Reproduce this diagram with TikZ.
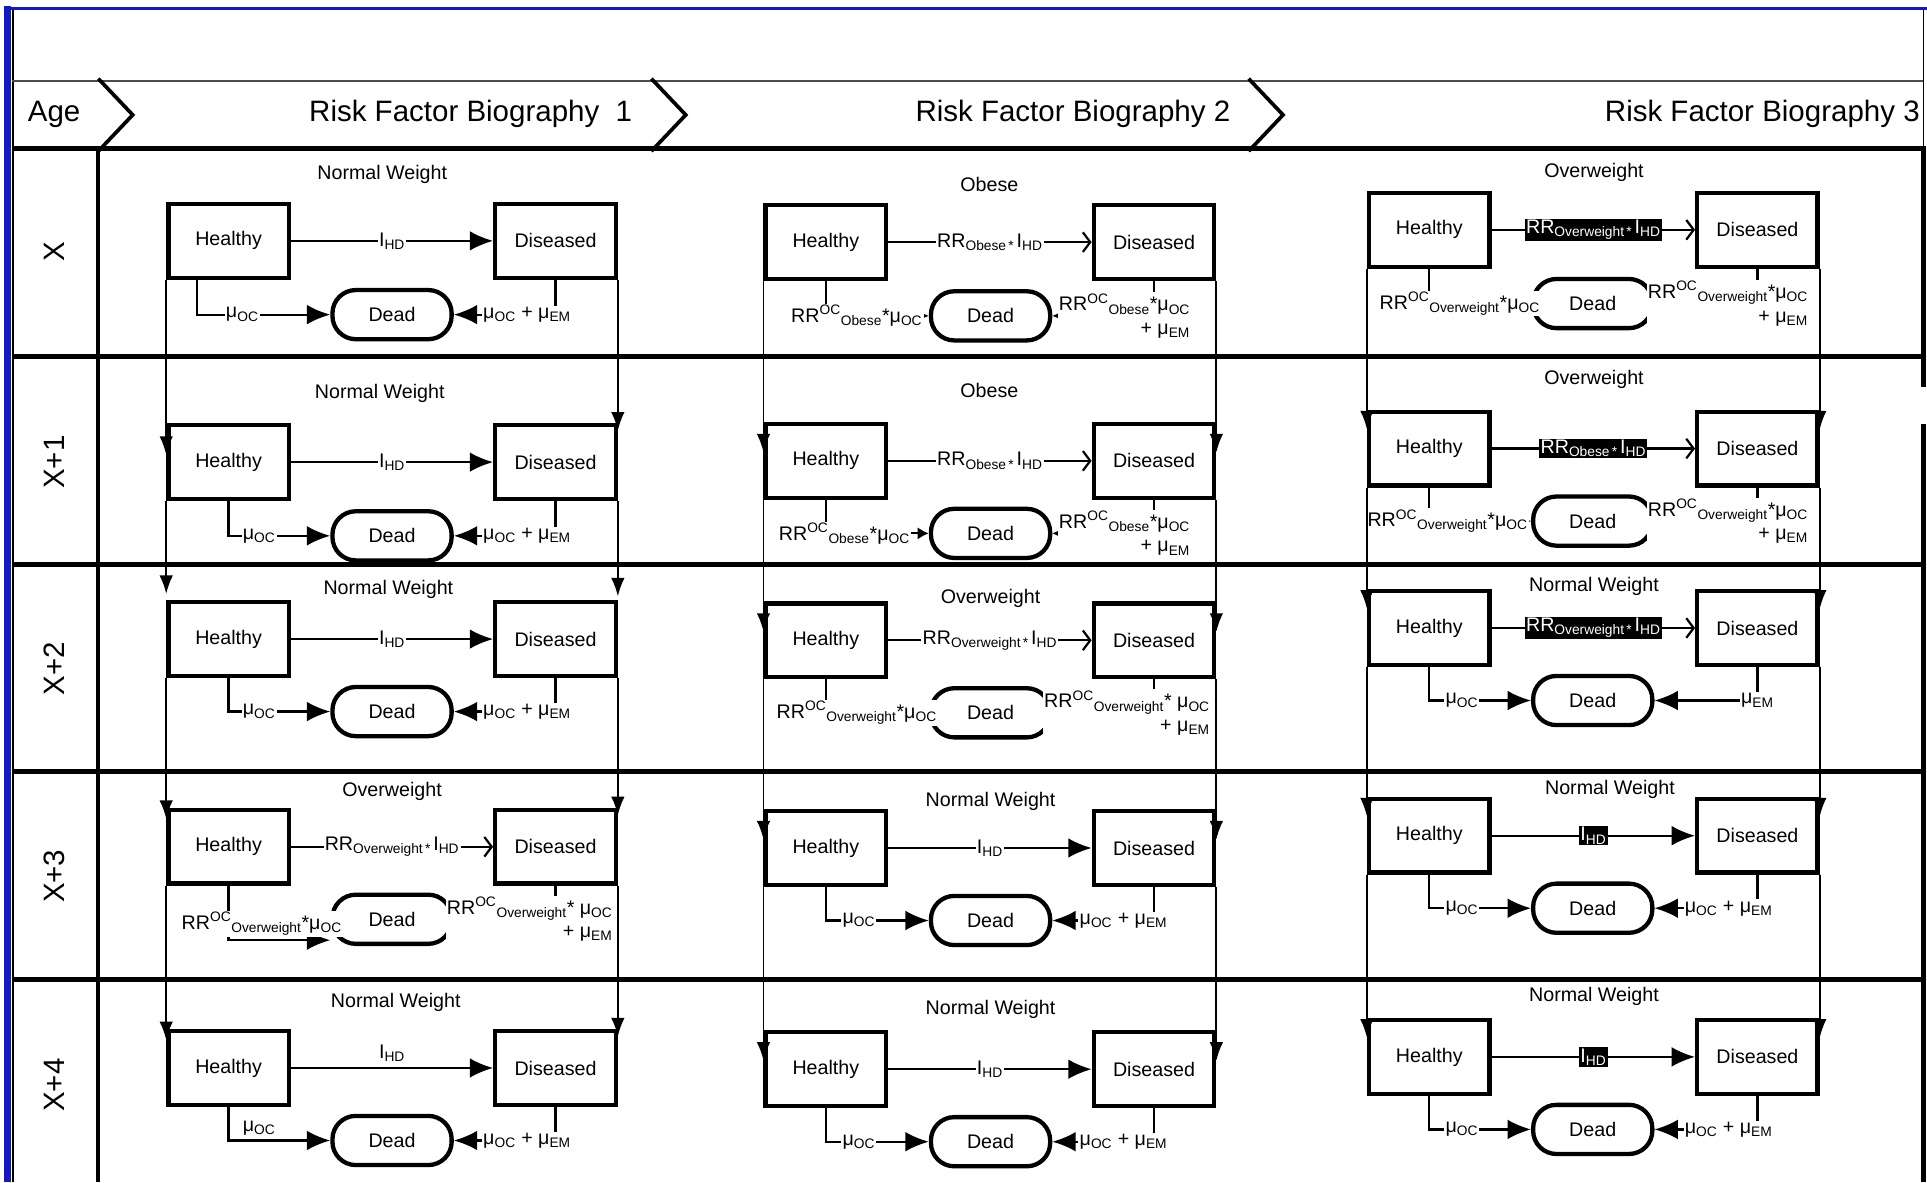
\documentclass[tikz,border=0pt]{standalone}
\usepackage{fontspec}
\setmainfont{Liberation Sans}
\usetikzlibrary{arrows.meta}
\definecolor{frameblue}{RGB}{18,24,196}
\newcommand{\muoc}{μ\textsubscript{OC}}
\newcommand{\muem}{μ\textsubscript{EM}}
\newcommand{\ihd}{I\textsubscript{HD}}
\newcommand{\rrihd}[1]{RR\textsubscript{#1\,*\,}I\textsubscript{HD}}
\newcommand{\rroc}[1]{RR\textsuperscript{OC}\textsubscript{#1}}

\begin{document}
\begin{tikzpicture}[x=1pt,y=-1pt,
    font=\fontsize{16}{19}\selectfont,
    node distance=267pt,
    state/.style={draw,line width=3.5pt,minimum width=98pt,minimum height=60pt},
    dead/.style={draw,line width=3.5pt,rounded corners=19pt,minimum width=97pt,minimum height=40pt},
    big/.style={font=\fontsize{24}{28}\selectfont},
    rate/.style={line width=1.8pt,-{Latex[length=19pt,width=16pt]}},
    rrrate/.style={line width=1.8pt,-{Straight Barb[length=6pt,width=16pt]}},
    small/.style={line width=1.8pt,-{Latex[length=9pt,width=10pt]}},
    year/.style={line width=1.5pt,-{Latex[length=15pt,width=11pt]}},
    lab/.style={fill=white,inner sep=1pt},
    hilite/.style={fill=black,text=white,inner sep=1pt},
    twoline/.style={fill=white,inner sep=1pt,align=right}]
  \useasboundingbox (0,0) rectangle (1568,962);

  % frame and header
  \fill[frameblue] (3,5) rectangle (9,962);
  \draw[frameblue,line width=3pt] (3,7) -- (1568,7);
  \draw[line width=2pt] (10.5,8) -- (10.5,962);
  \draw[line width=1pt] (1565,8) -- (1565,121);
  \draw[line width=4pt] (1565,121) -- (1565,315) (1565,345) -- (1565,962);
  \draw[line width=1.5pt,black!70] (10,66) -- (1565,66);
  \draw[line width=4pt] (10,121) -- (1567,121);
  \foreach \x in {80,530,1016}
    \draw[line width=3pt] (\x,64) -- (\x+28,93.5) -- (\x,123);
  \node[big] (age) at (44,93) {Age};
  \node[big] (bio1) at (383,93) {Risk Factor Biography\ \ 1};
  \node[big] (bio2) at (873,93) {Risk Factor Biography 2};
  \node[big] (bio3) at (1434,93) {Risk Factor Biography 3};

  % age rows
  \foreach \y in {290,459,628,797}
    \draw[line width=4pt] (10,\y) -- (1567,\y);
  \draw[line width=3.5pt] (80,121) -- (80,962);
  \foreach \t/\y in {X/205,X+1/376,X+2/544,X+3/713,X+4/883}
    \node[big,rotate=90] at (44,\y) {\t};

  % biography 1
  \node[state] (h11) at (186,196) {Healthy};
  \node[state,right of=h11,node distance=266pt] (d11) {Diseased};
  \node[dead,right of=h11,node distance=133pt,yshift=-60pt] (x11) {Dead};
  \node (w11) at (311,142) {Normal Weight};
  \draw[rate] (h11) -- node[lab] {\ihd} (d11);
  \draw[rate] ([xshift=25pt]h11.south west) |- node[lab,pos=.67] {\muoc} (x11);
  \draw[rate] (d11) |- node[lab,pos=.64] {\muoc{} + \muem} (x11);

  \node[state] (h12) at (186,376) {Healthy};
  \node[state,right of=h12,node distance=266pt] (d12) {Diseased};
  \node[dead,right of=h12,node distance=133pt,yshift=-60pt] (x12) {Dead};
  \node (w12) at (309,320) {Normal Weight};
  \draw[rate] (h12) -- node[lab] {\ihd} (d12);
  \draw[rate] (h12) |- node[lab,pos=.65] {\muoc} (x12);
  \draw[rate] (d12) |- node[lab,pos=.64] {\muoc{} + \muem} (x12);

  \node[state] (h13) at (186,520) {Healthy};
  \node[state,right of=h13,node distance=266pt] (d13) {Diseased};
  \node[dead,right of=h13,node distance=133pt,yshift=-59pt] (x13) {Dead};
  \node (w13) at (316,480) {Normal Weight};
  \draw[rate] (h13) -- node[lab] {\ihd} (d13);
  \draw[rate] (h13) |- node[lab,pos=.65] {\muoc} (x13);
  \draw[rate] (d13) |- node[lab,pos=.64] {\muoc{} + \muem} (x13);

  \node[state] (h14) at (186,689) {Healthy};
  \node[state,right of=h14,node distance=266pt] (d14) {Diseased};
  \node[dead,right of=h14,node distance=133pt,yshift=-59pt] (x14) {Dead};
  \node (w14) at (319,644) {Overweight};
  \draw[rrrate] (h14) -- node[lab] {\rrihd{Overweight}} (d14);
  \draw[rate] (h14) |- node[lab,pos=.35,xshift=27pt] {\rroc{Overweight}*\muoc} ([yshift=-17pt]x14.west);
  \draw[small] (d14) |- node[twoline,pos=.5,xshift=-21pt] {\rroc{Overweight}* \muoc\\+ \muem} (x14);

  \node[state] (h15) at (186,869) {Healthy};
  \node[state,right of=h15,node distance=266pt] (d15) {Diseased};
  \node[dead,right of=h15,node distance=133pt,yshift=-59pt] (x15) {Dead};
  \node (w15) at (322,816) {Normal Weight};
  \draw[rate] (h15) -- node[above=1pt] {\ihd} (d15);
  \draw[rate] (h15) |- node[above,pos=.65] {\muoc} (x15);
  \draw[rate] (d15) |- node[lab,pos=.64] {\muoc{} + \muem} (x15);

  % biography 2
  \node[state] (h21) at (672,197) {Healthy};
  \node[state,right of=h21] (d21) {Diseased};
  \node[dead,right of=h21,node distance=134pt,yshift=-60pt] (x21) {Dead};
  \node (w21) at (805,150) {Obese};
  \draw[rrrate] (h21) -- node[lab] {\rrihd{Obese}} (d21);
  \draw[small] (h21) |- node[lab,pos=.65] {\rroc{Obese}*\muoc} (x21);
  \draw[small] (d21) |- node[twoline,pos=.5,xshift=-24pt] {\rroc{Obese}*\muoc\\+ \muem} (x21);

  \node[state] (h22) at (672,375) {Healthy};
  \node[state,right of=h22] (d22) {Diseased};
  \node[dead,right of=h22,node distance=134pt,yshift=-59pt] (x22) {Dead};
  \node (w22) at (805,318) {Obese};
  \draw[rrrate] (h22) -- node[lab] {\rrihd{Obese}} (d22);
  \draw[small] (h22) |- node[lab,pos=.59] {\rroc{Obese}*\muoc} (x22);
  \draw[small] (d22) |- node[twoline,pos=.5,xshift=-24pt] {\rroc{Obese}*\muoc\\+ \muem} (x22);

  \node[state] (h23) at (672,521) {Healthy};
  \node[state,right of=h23] (d23) {Diseased};
  \node[dead,right of=h23,node distance=134pt,yshift=-59pt] (x23) {Dead};
  \node (w23) at (806,487) {Overweight};
  \draw[rrrate] (h23) -- node[lab] {\rrihd{Overweight}} (d23);
  \draw[small] (h23) |- node[lab,pos=.65] {\rroc{Overweight}*\muoc} (x23);
  \draw[small] (d23) |- node[twoline,pos=.5,xshift=-22pt] {\rroc{Overweight}* \muoc\\+ \muem} (x23);

  \node[state] (h24) at (672,690) {Healthy};
  \node[state,right of=h24] (d24) {Diseased};
  \node[dead,right of=h24,node distance=134pt,yshift=-59pt] (x24) {Dead};
  \node (w24) at (806,652) {Normal Weight};
  \draw[rate] (h24) -- node[lab] {\ihd} (d24);
  \draw[rate] (h24) |- node[lab,pos=.66] {\muoc} (x24);
  \draw[rate] (d24) |- node[lab,pos=.65] {\muoc{} + \muem} (x24);

  \node[state] (h25) at (672,870) {Healthy};
  \node[state,right of=h25] (d25) {Diseased};
  \node[dead,right of=h25,node distance=134pt,yshift=-59pt] (x25) {Dead};
  \node (w25) at (806,821) {Normal Weight};
  \draw[rate] (h25) -- node[lab] {\ihd} (d25);
  \draw[rate] (h25) |- node[lab,pos=.66] {\muoc} (x25);
  \draw[rate] (d25) |- node[lab,pos=.65] {\muoc{} + \muem} (x25);

  % biography 3
  \node[state] (h31) at (1163,187) {Healthy};
  \node[state,right of=h31] (d31) {Diseased};
  \node[dead,right of=h31,node distance=133pt,yshift=-60pt] (x31) {Dead};
  \node (w31) at (1297,140) {Overweight};
  \draw[rrrate] (h31) -- node[hilite] {\rrihd{Overweight}} (d31);
  \draw[small] (h31) |- node[lab,pos=.65] {\rroc{Overweight}*\muoc} (x31);
  \draw[small] (d31) |- node[twoline,pos=.5,xshift=-24pt] {\rroc{Overweight}*\muoc\\+ \muem} (x31);

  \node[state] (h32) at (1163,365) {Healthy};
  \node[state,right of=h32] (d32) {Diseased};
  \node[dead,right of=h32,node distance=133pt,yshift=-59pt] (x32) {Dead};
  \node (w32) at (1297,309) {Overweight};
  \draw[rrrate] (h32) -- node[hilite] {\rrihd{Obese}} (d32);
  \draw[small] (h32) |- node[lab,pos=.59] {\rroc{Overweight}*\muoc} (x32);
  \draw[small] (d32) |- node[twoline,pos=.5,xshift=-24pt] {\rroc{Overweight}*\muoc\\+ \muem} (x32);

  \node[state] (h33) at (1163,511) {Healthy};
  \node[state,right of=h33] (d33) {Diseased};
  \node[dead,right of=h33,node distance=133pt,yshift=-59pt] (x33) {Dead};
  \node (w33) at (1297,477) {Normal Weight};
  \draw[rrrate] (h33) -- node[hilite] {\rrihd{Overweight}} (d33);
  \draw[rate] (h33) |- node[lab,pos=.66] {\muoc} (x33);
  \draw[rate] (d33) |- node[lab,pos=.5] {\muem} (x33);

  \node[state] (h34) at (1163,680) {Healthy};
  \node[state,right of=h34] (d34) {Diseased};
  \node[dead,right of=h34,node distance=133pt,yshift=-59pt] (x34) {Dead};
  \node (w34) at (1310,642) {Normal Weight};
  \draw[rate] (h34) -- node[hilite] {\ihd} (d34);
  \draw[rate] (h34) |- node[lab,pos=.66] {\muoc} (x34);
  \draw[rate] (d34) |- node[lab,pos=.64] {\muoc{} + \muem} (x34);

  \node[state] (h35) at (1163,860) {Healthy};
  \node[state,right of=h35] (d35) {Diseased};
  \node[dead,right of=h35,node distance=133pt,yshift=-59pt] (x35) {Dead};
  \node (w35) at (1297,811) {Normal Weight};
  \draw[rate] (h35) -- node[hilite] {\ihd} (d35);
  \draw[rate] (h35) |- node[lab,pos=.66] {\muoc} (x35);
  \draw[rate] (d35) |- node[lab,pos=.64] {\muoc{} + \muem} (x35);

  % one year later
  \draw[year] (h11.south west) -- ([yshift=6pt]h12.west);
  \draw[year] (d11.south east) -- ([yshift=-6pt]d12.north east);
  \draw[year] (h12.south west) -- ([yshift=5pt]h13.north west);
  \draw[year] (d12.south east) -- ([yshift=3pt]d13.north east);
  \draw[year] (h13.south west) -- ([yshift=-9pt]h14.north west);
  \draw[year] (d13.south east) -- ([yshift=-6pt]d14.north east);
  \draw[year] (h14.south west) -- ([yshift=-9pt]h15.north west);
  \draw[year] (d14.south east) -- ([yshift=-6pt]d15.north east);
  \foreach \r/\n in {1/2,2/3,3/4,4/5} {
    \draw[year] (h2\r.south west) -- ([yshift=7pt]h2\n.west);
    \draw[year] (d2\r.south east) -- ([yshift=7pt]d2\n.east);
    \draw[year] (h3\r.south west) -- ([yshift=-16pt]h3\n.north west);
    \draw[year] (d3\r.south east) -- ([yshift=-16pt]d3\n.north east);
  }
\end{tikzpicture}
\end{document}
